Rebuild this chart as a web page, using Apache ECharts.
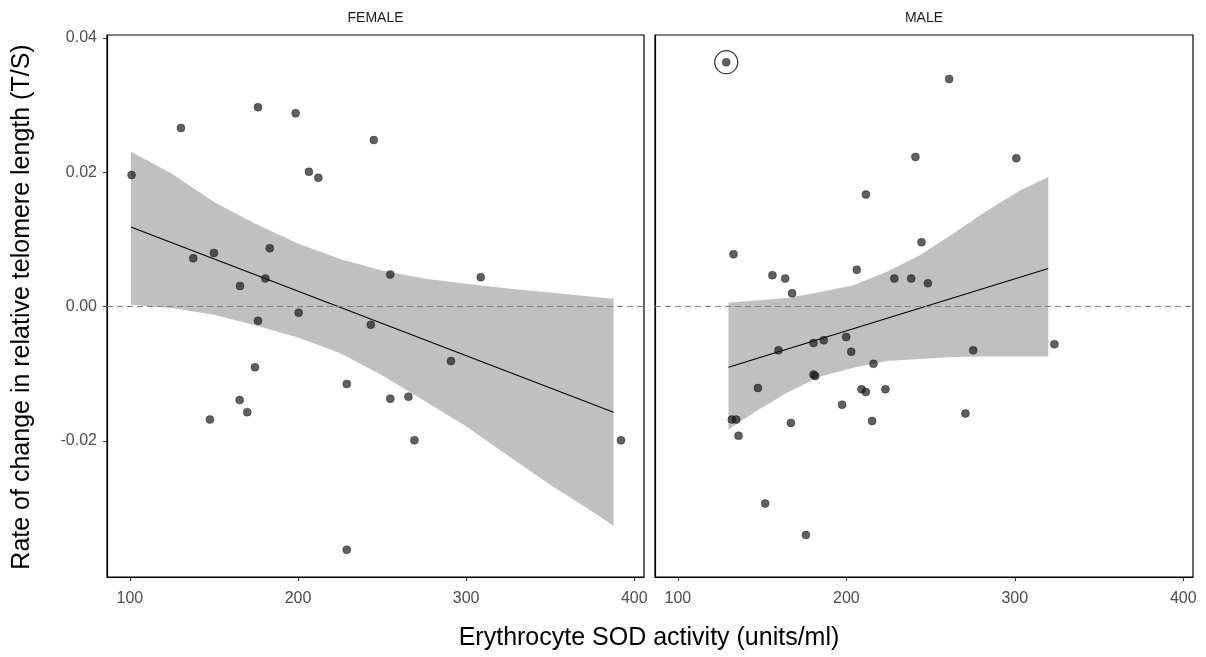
<!DOCTYPE html>
<html>
<head>
<meta charset="utf-8">
<script src="https://cdn.jsdelivr.net/npm/echarts@6/dist/echarts.min.js"></script>
<style>
  html, body { margin: 0; padding: 0; background: #ffffff; }
  #chart { width: 1206px; height: 657px; }
</style>
</head>
<body>
<div id="chart"></div>
<script>
// Facet labels
const panelNames = ['FEMALE', 'MALE'];

// Tick labels
const xTicks = [100, 200, 300, 400];
const yTicks = [-0.02, 0.00, 0.02, 0.04];

// FEMALE: erythrocyte SOD activity (units/ml) and rate of change in T/S
const femaleSOD = [101.0, 130.4, 176.2, 198.6, 245.1, 206.5, 212.1, 137.7, 150.0, 183.2,
                   180.6, 165.5, 254.9, 308.7, 176.2, 200.4, 243.3, 291.0, 174.4, 229.0,
                   165.3, 169.8, 147.6, 254.9, 265.7, 269.2, 392.1, 229.0];
const femaleRate = [0.0196, 0.0266, 0.0297, 0.0288, 0.0248, 0.0201, 0.0192, 0.0072, 0.0080, 0.0087,
                    0.0042, 0.0031, 0.0048, 0.0044, -0.0021, -0.0009, -0.0027, -0.0081, -0.0090, -0.0115,
                    -0.0139, -0.0157, -0.0168, -0.0137, -0.0134, -0.0199, -0.0199, -0.0362];

// FEMALE linear fit and its confidence band
const femaleFitSOD = [100.6, 387.7];
const femaleFitRate = [0.01185, -0.0157];
const femaleBandSOD = [100.6, 125, 150, 175, 200, 225, 250, 275, 300, 325, 350, 375, 387.7];
const femaleBandLow = [0.0003, -0.0002, -0.0012, -0.0028, -0.0046, -0.0069, -0.0102, -0.0140,
                       -0.0178, -0.0222, -0.0265, -0.0305, -0.0326];
const femaleBandHigh = [0.0231, 0.0198, 0.0156, 0.0123, 0.0094, 0.0071, 0.0054, 0.0042,
                        0.0034, 0.0027, 0.0021, 0.0015, 0.0012];

// MALE: erythrocyte SOD activity (units/ml) and rate of change in T/S
const maleSOD = [261.0, 241.0, 300.9, 211.6, 133.0, 244.6, 156.1, 163.7, 167.8, 206.2,
                 228.5, 238.5, 248.4, 159.7, 180.5, 186.6, 199.9, 202.9, 216.1, 180.5,
                 181.5, 147.5, 209.0, 211.6, 223.2, 197.5, 132.0, 134.6, 167.1, 215.3,
                 136.0, 270.7, 275.3, 323.5, 151.8, 176.0];
const maleRate = [0.0339, 0.0223, 0.0221, 0.0167, 0.0078, 0.0096, 0.0047, 0.0042, 0.0020, 0.0055,
                  0.0042, 0.0042, 0.0035, -0.0065, -0.0054, -0.0050, -0.0045, -0.0067, -0.0085, -0.0101,
                  -0.0103, -0.0121, -0.0123, -0.0127, -0.0123, -0.0146, -0.0168, -0.0168, -0.0173, -0.0170,
                  -0.0192, -0.0159, -0.0065, -0.0056, -0.0293, -0.0340];

// MALE outlier (ringed, left out of the fit)
const maleOutlierSOD = [128.7];
const maleOutlierRate = [0.0364];

// MALE linear fit and its confidence band
const maleFitSOD = [130.0, 319.9];
const maleFitRate = [-0.0090, 0.0057];
const maleBandSOD = [130.0, 144.9, 164.7, 184.5, 204.2, 224.0, 243.8, 263.6, 283.4, 303.1, 319.9];
const maleBandLow = [-0.0183, -0.0158, -0.0128, -0.0104, -0.0091, -0.0081, -0.0078, -0.0075,
                     -0.0074, -0.0074, -0.0074];
const maleBandHigh = [0.0006, 0.0009, 0.0013, 0.0022, 0.0032, 0.0052, 0.0077, 0.0109,
                      0.0143, 0.0173, 0.0193];

const FONT = '"Liberation Sans", Arial, Helvetica, sans-serif';
const zip = (a, b) => a.map((v, i) => [v, b[i]]);

const gridBox = [
  { left: 107, top: 35, width: 537, height: 542 },
  { left: 655, top: 35, width: 538, height: 542 }
];

function bandSeries(idx, xs, lo, hi) {
  return {
    type: 'custom',
    xAxisIndex: idx, yAxisIndex: idx,
    z: 1,
    silent: true,
    data: xs.map((x, i) => [x, lo[i], hi[i]]),
    encode: { x: 0, y: [1, 2] },
    renderItem: function (params, api) {
      if (params.dataIndex !== 0) return null;
      const pts = [];
      for (let i = 0; i < xs.length; i++) pts.push(api.coord([xs[i], hi[i]]));
      for (let i = xs.length - 1; i >= 0; i--) pts.push(api.coord([xs[i], lo[i]]));
      return { type: 'polygon', shape: { points: pts }, style: { fill: '#c0c0c0' } };
    }
  };
}

function fitSeries(idx, xs, ys) {
  return {
    type: 'line',
    xAxisIndex: idx, yAxisIndex: idx,
    z: 3,
    symbol: 'none',
    silent: true,
    data: zip(xs, ys),
    lineStyle: { color: '#000000', width: 1.1 },
    markLine: {
      silent: true,
      symbol: 'none',
      label: { show: false },
      lineStyle: { color: '#808080', width: 1.1, type: [6, 4] },
      data: [{ yAxis: 0 }]
    }
  };
}

function pointSeries(idx, xs, ys) {
  return {
    type: 'scatter',
    xAxisIndex: idx, yAxisIndex: idx,
    z: 4,
    symbol: 'circle',
    symbolSize: 8,
    data: zip(xs, ys),
    itemStyle: { color: 'rgba(22,22,22,0.85)', borderColor: 'rgba(0,0,0,0.7)', borderWidth: 0.6 }
  };
}

const option = {
  backgroundColor: '#ffffff',
  animation: false,
  grid: gridBox.map(g => Object.assign({
    show: true, borderColor: '#000000', borderWidth: 1.2, backgroundColor: 'transparent',
    containLabel: false
  }, g)),
  xAxis: [0, 1].map(i => ({
    type: 'value', gridIndex: i, min: 86.4, max: 405.8,
    axisLine: { show: true, onZero: false, lineStyle: { color: '#000000', width: 1.2 } },
    splitLine: { show: false },
    axisTick: { show: true, length: 4, customValues: xTicks, lineStyle: { color: '#333333', width: 1 } },
    axisLabel: { customValues: xTicks, color: '#4d4d4d', fontSize: 16, fontFamily: FONT, margin: 14 }
  })),
  yAxis: [0, 1].map(i => ({
    type: 'value', gridIndex: i, min: -0.04024, max: 0.04045,
    axisLine: { show: true, onZero: false, lineStyle: { color: '#000000', width: 1.2 } },
    splitLine: { show: false },
    axisTick: { show: i === 0, length: 4, customValues: yTicks, lineStyle: { color: '#333333', width: 1 } },
    axisLabel: {
      show: i === 0, customValues: yTicks, color: '#4d4d4d', fontSize: 16, fontFamily: FONT, margin: 10,
      formatter: v => v.toFixed(2)
    }
  })),
  graphic: [
    {
      type: 'text', x: gridBox[0].left + gridBox[0].width / 2, y: 18,
      style: { text: panelNames[0], fill: '#1a1a1a', font: '14px ' + FONT, textAlign: 'center', textVerticalAlign: 'middle' }
    },
    {
      type: 'text', x: gridBox[1].left + gridBox[1].width / 2, y: 18,
      style: { text: panelNames[1], fill: '#1a1a1a', font: '14px ' + FONT, textAlign: 'center', textVerticalAlign: 'middle' }
    },
    {
      type: 'text', x: 649, y: 638,
      style: { text: 'Erythrocyte SOD activity (units/ml)', fill: '#000000', font: '25px ' + FONT, textAlign: 'center', textVerticalAlign: 'middle' }
    },
    {
      type: 'text', x: 22, y: 307, rotation: Math.PI / 2,
      style: { text: 'Rate of change in relative telomere length (T/S)', fill: '#000000', font: '25px ' + FONT, textAlign: 'center', textVerticalAlign: 'middle' }
    }
  ],
  series: [
    bandSeries(0, femaleBandSOD, femaleBandLow, femaleBandHigh),
    fitSeries(0, femaleFitSOD, femaleFitRate),
    pointSeries(0, femaleSOD, femaleRate),
    bandSeries(1, maleBandSOD, maleBandLow, maleBandHigh),
    fitSeries(1, maleFitSOD, maleFitRate),
    pointSeries(1, maleSOD, maleRate),
    pointSeries(1, maleOutlierSOD, maleOutlierRate),
    {
      type: 'scatter',
      xAxisIndex: 1, yAxisIndex: 1,
      z: 5,
      silent: true,
      symbol: 'circle',
      symbolSize: 23,
      data: zip(maleOutlierSOD, maleOutlierRate),
      itemStyle: { color: 'rgba(0,0,0,0)', borderColor: '#000000', borderWidth: 1.2 }
    }
  ]
};

const chart = echarts.init(document.getElementById('chart'), null, { renderer: 'canvas' });
chart.setOption(option);
</script>
</body>
</html>
